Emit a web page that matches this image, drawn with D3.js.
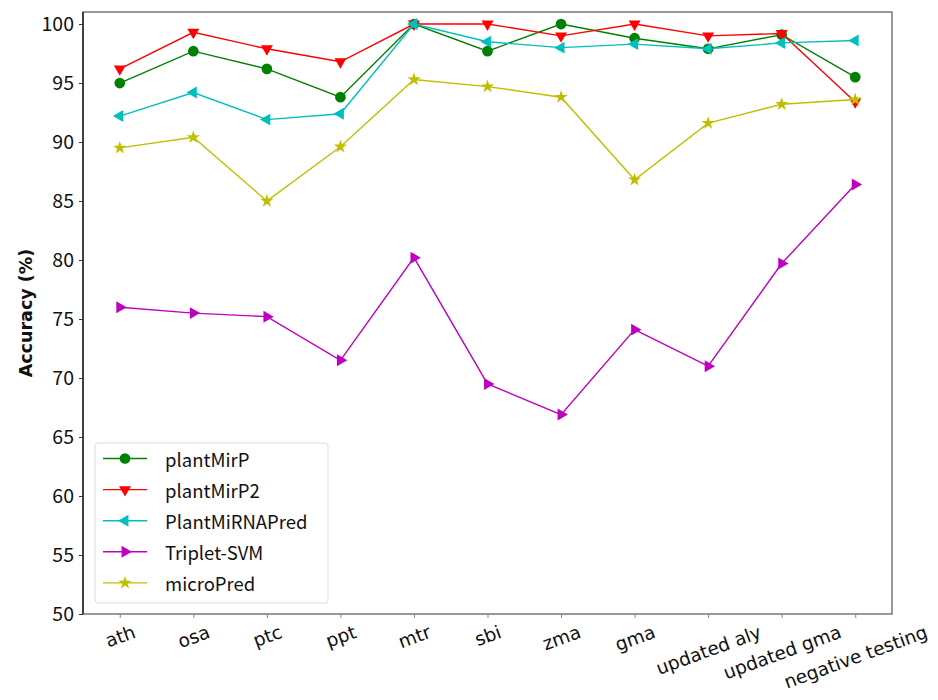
<!DOCTYPE html>
<html>
<head>
<meta charset="utf-8">
<script src="https://cdn.jsdelivr.net/npm/d3@7"></script>
<style>
  html, body { margin: 0; padding: 0; background: #fff; }
  svg { display: block; }
</style>
</head>
<body>
<svg id="chart" width="938" height="700"></svg>
<script>
// Datasets along the x axis
const categories = ["ath", "osa", "ptc", "ppt", "mtr", "sbi", "zma", "gma",
  "updated aly", "updated gma", "negative testing"];

// Accuracy (%) per tool
const plantMirP      = [95.0, 97.7, 96.2, 93.8, 100.0, 97.7, 100.0, 98.8, 97.9, 99.1, 95.5];
const plantMirP2     = [96.2, 99.3, 97.9, 96.8, 100.0, 100.0, 99.0, 100.0, 99.0, 99.2, 93.4];
const plantMiRNAPred = [92.2, 94.2, 91.9, 92.4, 100.0, 98.5, 98.0, 98.3, 97.9, 98.4, 98.6];
const tripletSVM     = [76.0, 75.5, 75.2, 71.5, 80.2, 69.5, 66.9, 74.1, 71.0, 79.7, 86.4];
const microPred      = [89.5, 90.4, 85.0, 89.6, 95.3, 94.7, 93.8, 86.8, 91.6, 93.2, 93.6];

const yTicks = [50, 55, 60, 65, 70, 75, 80, 85, 90, 95, 100];

const series = [
  { name: "plantMirP",      values: plantMirP,      color: "#008000", marker: "circle" },
  { name: "plantMirP2",     values: plantMirP2,     color: "#ff0000", marker: "down" },
  { name: "PlantMiRNAPred", values: plantMiRNAPred, color: "#00bfbf", marker: "left" },
  { name: "Triplet-SVM",    values: tripletSVM,     color: "#bf00bf", marker: "right" },
  { name: "microPred",      values: microPred,      color: "#bfbf00", marker: "star" }
];

const svg = d3.select("#chart");
const plot = { left: 83, top: 12, right: 892, bottom: 614 };

const x = d3.scaleLinear().domain([-0.5, categories.length - 0.5]).range([plot.left, plot.right]);
const y = d3.scaleLinear().domain([50, 101.02]).range([plot.bottom, plot.top]);

const tickFont = "'Noto Sans CJK SC', 'Noto Sans', sans-serif";

// Marker shapes
function markerPath(kind) {
  if (kind === "circle") return d3.symbol(d3.symbolCircle, 90)();
  if (kind === "star") return d3.symbol(d3.symbolStar, 55)();
  return d3.symbol(d3.symbolTriangle, 62)();
}
function markerRotation(kind) {
  if (kind === "down") return 180;
  if (kind === "left") return -90;
  if (kind === "right") return 90;
  return 0;
}

// Frame
svg.append("rect")
  .attr("x", plot.left).attr("y", plot.top)
  .attr("width", plot.right - plot.left).attr("height", plot.bottom - plot.top)
  .attr("fill", "none").attr("stroke", "#555").attr("stroke-width", 1.2);
svg.append("line")
  .attr("x1", plot.left).attr("x2", plot.left)
  .attr("y1", plot.top).attr("y2", plot.bottom)
  .attr("stroke", "#111").attr("stroke-width", 1.3);

// Y axis
const yAxis = d3.axisLeft(y).tickValues(yTicks).tickSize(4).tickPadding(5);
const yG = svg.append("g").attr("transform", `translate(${plot.left},0)`).call(yAxis);
yG.select(".domain").remove();
yG.selectAll(".tick line").attr("stroke", "#333");
yG.selectAll(".tick text")
  .attr("font-family", tickFont).attr("font-size", 19.5).attr("fill", "#111");

// X axis, labels tilted 20 degrees and centred under each tick
const xFontSize = 18.5;
const xAxis = d3.axisBottom(x).tickValues(d3.range(categories.length))
  .tickFormat(i => categories[i]).tickSize(4).tickPadding(0);
const xG = svg.append("g").attr("transform", `translate(0,${plot.bottom})`).call(xAxis);
xG.select(".domain").remove();
xG.selectAll(".tick line").attr("stroke", "#888");
const angle = 20 * Math.PI / 180;
xG.selectAll(".tick text")
  .attr("font-family", "'DejaVu Sans', sans-serif")
  .attr("font-size", xFontSize).attr("fill", "#111")
  .attr("text-anchor", "middle").attr("dy", null)
  .attr("dominant-baseline", "central")
  .each(function () {
    const w = this.getComputedTextLength();
    const h = xFontSize * 1.05;
    const half = (w * Math.sin(angle) + h * Math.cos(angle)) / 2;
    d3.select(this).attr("y", null)
      .attr("transform", `translate(0,${8 + half}) rotate(-20)`);
  });

// Y label
svg.append("text")
  .attr("transform", `translate(26,${(plot.top + plot.bottom) / 2}) rotate(-90)`)
  .attr("text-anchor", "middle").attr("dominant-baseline", "central")
  .attr("font-family", "'DejaVu Sans', sans-serif").attr("font-weight", "bold")
  .attr("font-size", 17.5).attr("fill", "#111")
  .text("Accuracy (%)");

// Lines and markers
const line = d3.line().x((d, i) => x(i)).y(d => y(d));
series.forEach(s => {
  const g = svg.append("g");
  g.append("path").datum(s.values)
    .attr("d", line).attr("fill", "none")
    .attr("stroke", s.color).attr("stroke-width", 1.4);
  g.selectAll("path.m").data(s.values).join("path")
    .attr("class", "m")
    .attr("d", markerPath(s.marker))
    .attr("transform", (d, i) => `translate(${x(i)},${y(d)}) rotate(${markerRotation(s.marker)})`)
    .attr("fill", s.color);
});

// Legend
const lg = svg.append("g").attr("transform", "translate(95,443)");
lg.append("rect").attr("width", 233).attr("height", 160).attr("rx", 3)
  .attr("fill", "#fff").attr("fill-opacity", 0.85)
  .attr("stroke", "#ddd").attr("stroke-width", 1);
series.forEach((s, i) => {
  const cy = 15.5 + i * 31.1;
  lg.append("line").attr("x1", 8).attr("x2", 52).attr("y1", cy).attr("y2", cy)
    .attr("stroke", s.color).attr("stroke-width", 1.4);
  lg.append("path").attr("d", markerPath(s.marker))
    .attr("transform", `translate(30,${cy}) rotate(${markerRotation(s.marker)})`)
    .attr("fill", s.color);
  lg.append("text").attr("x", 70).attr("y", cy)
    .attr("dominant-baseline", "central")
    .attr("font-family", tickFont).attr("font-size", 18.5).attr("fill", "#111")
    .text(s.name);
});
</script>
</body>
</html>
